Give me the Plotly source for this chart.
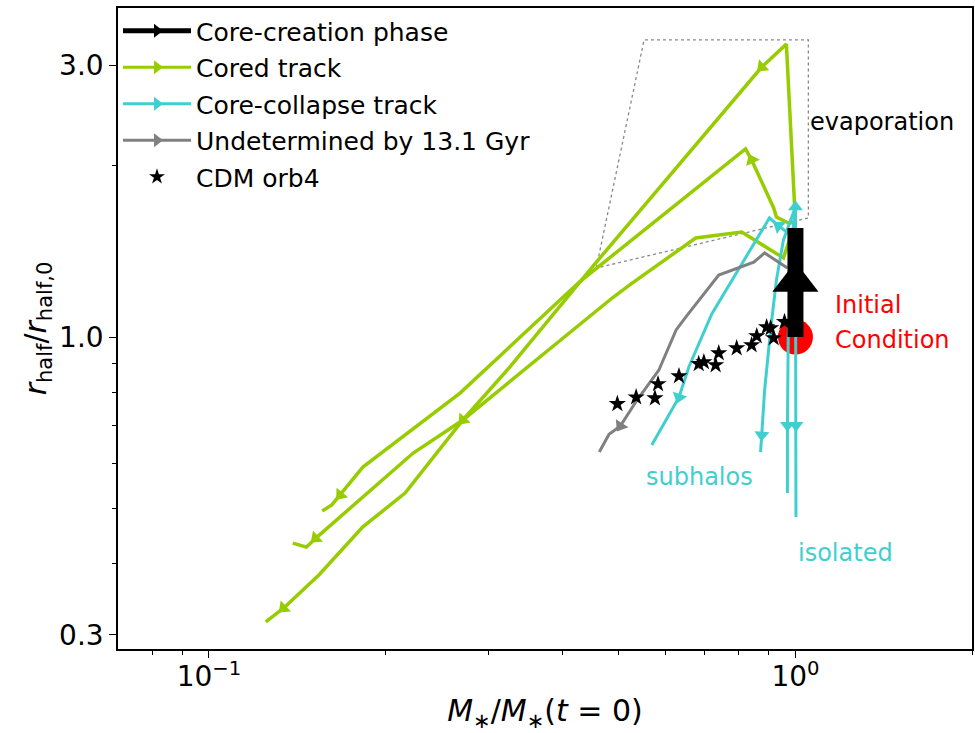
import plotly.graph_objects as go

# ---------------- data ----------------
core_x = [1.0, 1.0, 1.0]
core_y = [1.0, 1.25, 1.555]

# Cored tracks
g1_x = [1.0, 0.965, 0.876, 0.451, 0.326, 0.271, 0.216, 0.183, 0.154, 0.134, 0.125]
g1_y = [1.59, 3.27, 2.98, 1.33, 0.886, 0.715, 0.532, 0.464, 0.382, 0.334, 0.316]
g2_x = [1.0, 0.973, 0.928, 0.918, 0.842, 0.822, 0.428, 0.268, 0.183, 0.1675, 0.162, 0.156]
g2_y = [1.59, 1.586, 1.625, 1.686, 2.047, 2.14, 1.249, 0.797, 0.591, 0.528, 0.507, 0.495]
g3_x = [0.996, 0.954, 0.810, 0.676, 0.521, 0.487, 0.271, 0.223, 0.152, 0.1466, 0.139]
g3_y = [1.574, 1.377, 1.529, 1.493, 1.234, 1.171, 0.715, 0.6255, 0.443, 0.4275, 0.4345]

# Core-collapse tracks
c1_x = [0.973, 0.936, 0.903, 0.720, 0.658, 0.633, 0.569]
c1_y = [1.523, 1.567, 1.619, 1.098, 0.886, 0.784, 0.646]
c2_x = [1.0, 1.0, 0.954, 0.928, 0.907, 0.886, 0.876, 0.872]
c2_y = [1.555, 1.692, 1.481, 1.259, 1.029, 0.807, 0.673, 0.628]
c3_x = [1.0, 0.995, 0.985, 0.972, 0.969, 0.969]
c3_y = [1.555, 1.66, 1.3, 1.0, 0.70, 0.532]
c4_x = [1.0, 1.0, 1.002, 1.002]
c4_y = [1.555, 1.63, 0.70, 0.483]

# Undetermined track
u_x = [0.969, 0.886, 0.849, 0.740, 0.650, 0.626, 0.585, 0.537, 0.503, 0.481, 0.463]
u_y = [1.322, 1.405, 1.354, 1.285, 1.084, 1.029, 0.875, 0.775, 0.698, 0.675, 0.628]

# CDM orb4
star_x = [0.497, 0.535, 0.576, 0.583, 0.633, 0.684, 0.698, 0.731, 0.740, 0.794,
          0.842, 0.859, 0.893, 0.907, 0.918, 0.958]
star_y = [0.763, 0.784, 0.781, 0.827, 0.854, 0.897, 0.904, 0.893, 0.937, 0.956,
          0.968, 1.004, 1.041, 1.037, 0.996, 1.063]

# Evaporation region outline
evap_x = [0.4575, 0.552, 1.052, 1.052, 0.4575]
evap_y = [1.322, 3.327, 3.327, 1.619, 1.322]

init_x = [1.0]
init_y = [1.0]

x_tickvals = [0.1, 1.0]
x_ticktext = ["10<sup>\u22121</sup>", "10<sup>0</sup>"]
x_minor = [0.08, 0.09, 0.2, 0.3, 0.4, 0.5, 0.6, 0.7, 0.8, 0.9, 2.0]
y_tickvals = [0.3, 1.0, 3.0]
y_ticktext = ["0.3", "1.0", "3.0"]
y_minor = [0.4, 0.5, 0.6, 0.7, 0.8, 0.9, 2.0]

# ---------------- styles ----------------
GREEN = "#97cc00"
CYAN = "#3fcfcf"
GRAY = "#808080"
FONT = "DejaVu Sans"

fig = go.Figure()

# evaporation outline
fig.add_trace(go.Scatter(x=evap_x, y=evap_y, mode="lines",
                         line=dict(color="#888888", width=1.3, dash="dot"),
                         showlegend=False, hoverinfo="skip"))

# initial condition
fig.add_trace(go.Scatter(x=init_x, y=init_y, mode="markers",
                         marker=dict(color="red", size=35, line=dict(width=0)),
                         showlegend=False))


def track(xs, ys, color, width, arrows):
    flags = [i in arrows for i in range(len(xs))]
    fig.add_trace(go.Scatter(
        x=xs, y=ys, mode="lines+markers",
        line=dict(color=color, width=width),
        marker=dict(symbol="triangle-up", size=[13 if f else 1 for f in flags],
                    opacity=[1 if f else 0 for f in flags], color=color,
                    angleref="previous", line=dict(width=0)),
        showlegend=False))


track(g1_x, g1_y, GREEN, 3.5, [2, 5, 9])
track(g2_x, g2_y, GREEN, 3.5, [4, 9])
track(g3_x, g3_y, GREEN, 3.5, [8])
track(c1_x, c1_y, CYAN, 3, [1, 5])
track(c2_x, c2_y, CYAN, 3, [1, 6])
track(c3_x, c3_y, CYAN, 3, [4])
track(c4_x, c4_y, CYAN, 3, [2])
track(u_x, u_y, GRAY, 3, [8])

fig.add_trace(go.Scatter(x=star_x, y=star_y, mode="markers",
                         marker=dict(symbol="star", size=13, color="black",
                                     line=dict(width=0)),
                         showlegend=False))

# core-creation phase: thick black bar with arrow head
fig.add_trace(go.Scatter(x=core_x, y=core_y, mode="lines+markers",
                         line=dict(color="black", width=16),
                         marker=dict(symbol="triangle-up", size=[1, 40, 1],
                                     opacity=[0, 1, 0], color="black",
                                     line=dict(width=0)),
                         showlegend=False))

# legend entries
leg = [("Core-creation phase", "black", 5, "lines+markers", "triangle-right"),
       ("Cored track", GREEN, 3, "lines+markers", "triangle-right"),
       ("Core-collapse track", CYAN, 3, "lines+markers", "triangle-right"),
       ("Undetermined by 13.1 Gyr", GRAY, 3, "lines+markers", "triangle-right"),
       ("CDM orb4", "black", 3, "markers", "star")]
for k, (name, col, w, mode, sym) in enumerate(leg):
    fig.add_trace(go.Scatter(x=[None], y=[None], mode=mode, name=name,
                             legendgroup="g%d" % k,
                             line=dict(color=col, width=w),
                             marker=dict(symbol=sym, size=12, color=col,
                                         line=dict(width=0))))

ann_font = dict(family=FONT, size=24)
fig.add_annotation(x=0.022, y=0.378, xref="x", yref="y", text="evaporation",
                   showarrow=False, xanchor="left", yanchor="middle",
                   font=dict(ann_font, color="black"))
fig.add_annotation(x=0.0645, y=0.056, xref="x", yref="y", text="Initial",
                   showarrow=False, xanchor="left", yanchor="middle",
                   font=dict(ann_font, color="red"))
fig.add_annotation(x=0.0645, y=-0.005, xref="x", yref="y", text="Condition",
                   showarrow=False, xanchor="left", yanchor="middle",
                   font=dict(ann_font, color="red"))
fig.add_annotation(x=-0.258, y=-0.246, xref="x", yref="y", text="subhalos",
                   showarrow=False, xanchor="left", yanchor="middle",
                   font=dict(ann_font, color=CYAN))
fig.add_annotation(x=0.001, y=-0.38, xref="x", yref="y", text="isolated",
                   showarrow=False, xanchor="left", yanchor="middle",
                   font=dict(ann_font, color=CYAN))

fig.update_layout(
    width=975, height=733,
    margin=dict(l=118, r=1, t=8, b=84),
    paper_bgcolor="white", plot_bgcolor="white",
    font=dict(family=FONT, color="black"),
    legend=dict(x=0.0, y=1.0, xanchor="left", yanchor="top",
                font=dict(family=FONT, size=25, color="black"),
                tracegroupgap=1, itemwidth=68,
                bgcolor="rgba(255,255,255,0)", borderwidth=0),
    xaxis=dict(type="log", range=[-1.155, 0.301],
               tickmode="array", tickvals=x_tickvals, ticktext=x_ticktext,
               ticks="outside", ticklen=7, tickwidth=1.2, tickcolor="black",
               showline=True, linecolor="black", linewidth=1.5, mirror=True,
               showgrid=False, zeroline=False, ticklabelstandoff=-5,
               tickfont=dict(family=FONT, size=28),
               minor=dict(tickmode="array", tickvals=x_minor, ticks="outside",
                          ticklen=4, tickcolor="black", showgrid=False),
               title=dict(text="<i>M</i><sub>\u2217</sub>/<i>M</i><sub>\u2217</sub>(<i>t</i> = 0)",
                          font=dict(family=FONT, size=30), standoff=8)),
    yaxis=dict(type="log", range=[-0.548, 0.578],
               tickmode="array", tickvals=y_tickvals, ticktext=y_ticktext,
               ticks="outside", ticklen=7, tickwidth=1.2, tickcolor="black",
               showline=True, linecolor="black", linewidth=1.5, mirror=True,
               showgrid=False, zeroline=False,
               tickfont=dict(family=FONT, size=28),
               minor=dict(tickmode="array", tickvals=y_minor, ticks="outside",
                          ticklen=4, tickcolor="black", showgrid=False),
               title=dict(text="<i>r</i><sub>half</sub>/<i>r</i><sub>half,0</sub>",
                          font=dict(family=FONT, size=30), standoff=4)),
)

fig.write_html("out.html", config={"displayModeBar": False},
               post_script="document.body.style.margin='0px';document.body.style.overflow='hidden';")
